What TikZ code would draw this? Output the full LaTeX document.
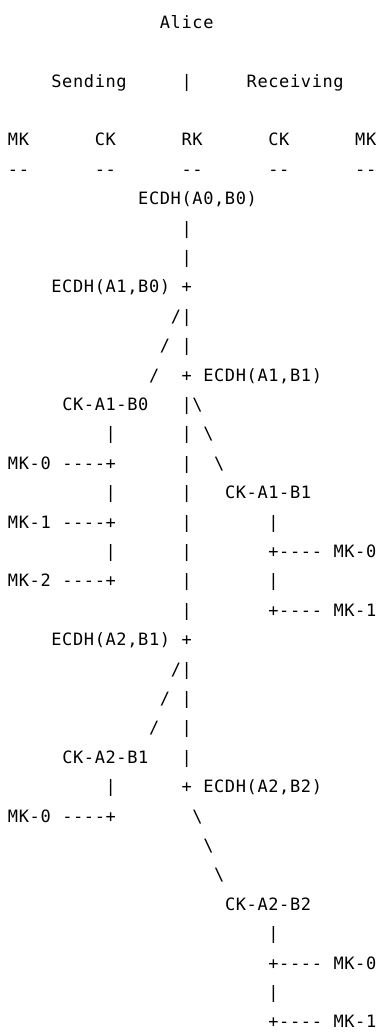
\documentclass[tikz,border=0pt]{standalone}
\usepackage{fontspec}
\newfontfamily\asciifont[LetterSpace=3.6]{DejaVu Sans Mono}
% one character cell of the monospaced grid, in pt
\newcommand\cellw{10.85}
\newcommand\rowh{29.4}
\tikzset{
  ascii/.style={anchor=base west, inner sep=0pt, outer sep=0pt,
    font=\asciifont\fontsize{17}{17}\selectfont, text=black},
}
% \seg{name}{column}{row}{text}
\newcommand\seg[4]{\node[ascii] (#1) at ({8+\cellw*#2},{28.2+\rowh*#3}) {#4};}
\newcommand\bs{\textbackslash}
\begin{document}
\begin{tikzpicture}[x=1pt,y=-1pt]
\useasboundingbox (0,0) rectangle (384,1036);
% header
\seg{alice}{14}{0}{Alice}
\seg{sending}{4}{2}{Sending}
\seg{divider}{16}{2}{|}
\seg{receiving}{22}{2}{Receiving}
\seg{hsmk}{0}{4}{MK}
\seg{hsck}{8}{4}{CK}
\seg{hrk}{16}{4}{RK}
\seg{hrck}{24}{4}{CK}
\seg{hrmk}{32}{4}{MK}
\seg{ua}{0}{5}{--}
\seg{ub}{8}{5}{--}
\seg{uc}{16}{5}{--}
\seg{ud}{24}{5}{--}
\seg{ue}{32}{5}{--}
% root chain, first step
\seg{dhAzBz}{12}{6}{ECDH(A0,B0)}
\seg{va}{16}{7}{|}
\seg{vb}{16}{8}{|}
\seg{dhAoBz}{4}{9}{ECDH(A1,B0)}
\seg{ja}{16}{9}{+}
\seg{sa}{15}{10}{/|}
\seg{sb}{14}{11}{/}
\seg{vc}{16}{11}{|}
\seg{sc}{13}{12}{/}
\seg{jb}{16}{12}{+}
\seg{dhAoBo}{18}{12}{ECDH(A1,B1)}
% sending chain A1-B0
\seg{ckAoBz}{5}{13}{CK-A1-B0}
\seg{vd}{16}{13}{|\bs}
\seg{ca}{9}{14}{|}
\seg{ve}{16}{14}{|}
\seg{ra}{18}{14}{\bs}
\seg{smkz}{0}{15}{MK-0}
\seg{ka}{5}{15}{----+}
\seg{vf}{16}{15}{|}
\seg{rb}{19}{15}{\bs}
\seg{cb}{9}{16}{|}
\seg{vg}{16}{16}{|}
\seg{ckAoBo}{20}{16}{CK-A1-B1}
\seg{smko}{0}{17}{MK-1}
\seg{kb}{5}{17}{----+}
\seg{vh}{16}{17}{|}
\seg{da}{24}{17}{|}
\seg{cc}{9}{18}{|}
\seg{vi}{16}{18}{|}
\seg{ma}{24}{18}{+----}
\seg{rmkz}{30}{18}{MK-0}
\seg{smkt}{0}{19}{MK-2}
\seg{kc}{5}{19}{----+}
\seg{vj}{16}{19}{|}
\seg{db}{24}{19}{|}
\seg{vk}{16}{20}{|}
\seg{mb}{24}{20}{+----}
\seg{rmko}{30}{20}{MK-1}
% root chain, second step
\seg{dhAtBo}{4}{21}{ECDH(A2,B1)}
\seg{jc}{16}{21}{+}
\seg{sd}{15}{22}{/|}
\seg{se}{14}{23}{/}
\seg{vl}{16}{23}{|}
\seg{sf}{13}{24}{/}
\seg{vm}{16}{24}{|}
\seg{ckAtBo}{5}{25}{CK-A2-B1}
\seg{vn}{16}{25}{|}
\seg{cd}{9}{26}{|}
\seg{jd}{16}{26}{+}
\seg{dhAtBt}{18}{26}{ECDH(A2,B2)}
\seg{smkzb}{0}{27}{MK-0}
\seg{kd}{5}{27}{----+}
\seg{rc}{17}{27}{\bs}
\seg{rd}{18}{28}{\bs}
\seg{re}{19}{29}{\bs}
% receiving chain A2-B2
\seg{ckAtBt}{20}{30}{CK-A2-B2}
\seg{dc}{24}{31}{|}
\seg{mc}{24}{32}{+----}
\seg{rmkzb}{30}{32}{MK-0}
\seg{dd}{24}{33}{|}
\seg{md}{24}{34}{+----}
\seg{rmkob}{30}{34}{MK-1}
\end{tikzpicture}
\end{document}
